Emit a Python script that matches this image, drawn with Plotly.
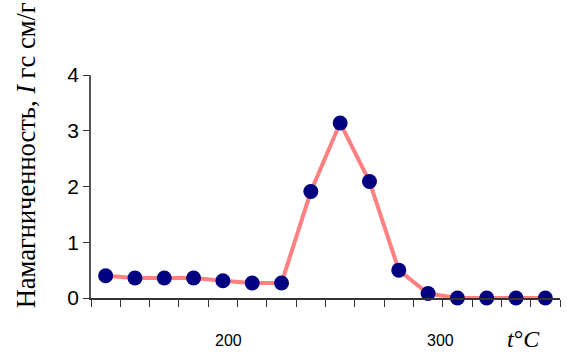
import plotly.graph_objects as go

# Data
point_index = list(range(1, 17))
magnetization = [0.40, 0.36, 0.36, 0.36, 0.31, 0.27, 0.27, 1.91, 3.14, 2.09, 0.50, 0.08, 0.0, 0.0, 0.0, 0.0]
y_ticks = [0, 1, 2, 3, 4]
temp_labels = ["200", "300"]
temp_label_pos = [5.18, 12.41]
boundary_ticks = [i + 0.5 for i in range(0, 17)]

fig = go.Figure()
fig.add_trace(go.Scatter(
    x=point_index, y=magnetization, mode="lines+markers",
    line=dict(color="#FF8080", width=4),
    marker=dict(color="#000080", size=15, line=dict(width=0)),
    cliponaxis=False, showlegend=False,
))

fig.update_layout(
    width=567, height=354,
    margin=dict(l=91, r=7, t=75, b=56),
    plot_bgcolor="white", paper_bgcolor="white",
    xaxis=dict(range=[0.5, 16.5], tickvals=boundary_ticks, ticktext=[""] * len(boundary_ticks),
               ticks="outside", ticklen=7, tickcolor="#333", showline=True, linecolor="#333",
               linewidth=1.5, showgrid=False, zeroline=False),
    yaxis=dict(range=[0, 4], tickvals=y_ticks, ticks="outside", ticklen=6, tickcolor="#333",
               showline=True, linecolor="#555", linewidth=1.5, showgrid=False, zeroline=False,
               tickfont=dict(family="Arial, Liberation Sans", size=21, color="black")),
    font=dict(family="Arial, Liberation Sans", color="black"),
)

for lab, pos in zip(temp_labels, temp_label_pos):
    fig.add_annotation(x=pos, xref="x", y=-0.19, yref="paper", text=lab, showarrow=False,
                       xanchor="center", yanchor="middle",
                       font=dict(family="Arial, Liberation Sans", size=16, color="black"))

fig.add_annotation(x=(523 - 91) / 469, xref="paper", y=-0.185, yref="paper",
                   text="<i>t</i>°<i>C</i>", showarrow=False, xanchor="center", yanchor="middle",
                   font=dict(family="Liberation Serif, Times New Roman", size=24, color="black"))

fig.add_annotation(x=(26 - 91) / 469, xref="paper", y=(297.5 - 155.5) / 222, yref="paper",
                   text="Намагниченность, <i>I</i> гс см/г", textangle=-90, showarrow=False,
                   xanchor="center", yanchor="middle",
                   font=dict(family="Liberation Serif, Times New Roman", size=26.5, color="black"))

fig.write_html("out.html", config={"displayModeBar": False},
               post_script="document.body.style.margin='0';document.body.style.overflow='hidden';")
